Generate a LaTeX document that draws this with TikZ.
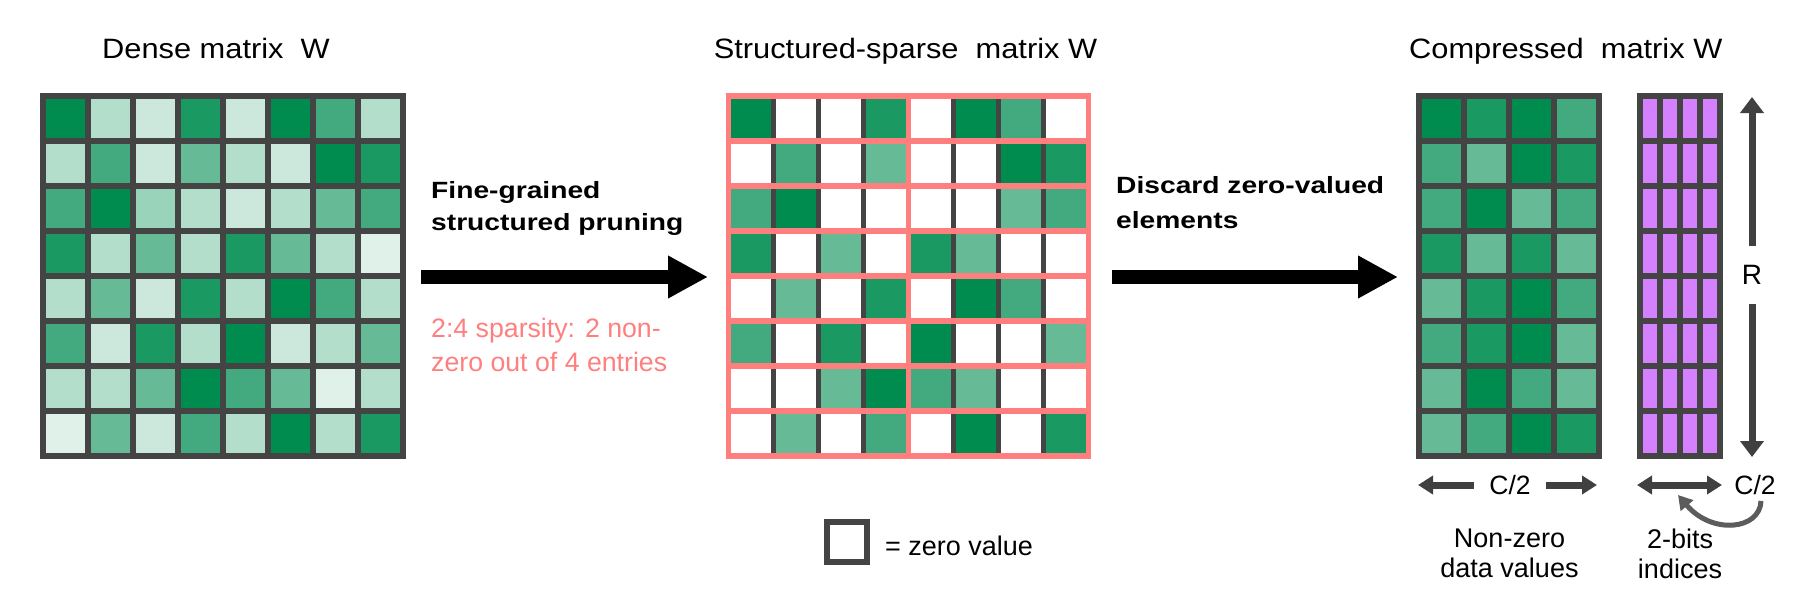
\documentclass[tikz,border=0pt]{standalone}
\usepackage{fontspec}
\setmainfont{Liberation Sans}
\newfontfamily\headfont[FakeStretch=1.1]{Liberation Sans}
\newfontfamily\stepfont[FakeStretch=1.2]{Liberation Sans}
\usetikzlibrary{arrows.meta}

\definecolor{gridgray}{HTML}{444444}
\definecolor{arrowgray}{HTML}{404040}
\definecolor{bendgray}{HTML}{5C5C5C}
\definecolor{prunepink}{HTML}{FF7F7F}
\definecolor{idxpurple}{HTML}{D580FF}
\definecolor{g1}{HTML}{008C4E}
\definecolor{g2}{HTML}{1A9A62}
\definecolor{g3}{HTML}{42AA7E}
\definecolor{g4}{HTML}{66BB96}
\definecolor{g5}{HTML}{99D3B9}
\definecolor{g6}{HTML}{B2DECB}
\definecolor{g7}{HTML}{CCE8DC}
\definecolor{g8}{HTML}{E0F1E9}

\tikzstyle{cell} = [draw=gridgray, line width=6pt]
\tikzstyle{sparsecell} = [draw=gridgray, line width=5pt]
\tikzstyle{pinkline} = [draw=prunepink, line width=5.5pt]
\tikzstyle{heading} = [font=\headfont\fontsize{28}{34}\selectfont, inner sep=0, anchor=base]
\tikzstyle{steplabel} = [font=\stepfont\bfseries\fontsize{23.5}{32}\selectfont, align=left, inner sep=0, anchor=north west]
\tikzstyle{pinknote} = [font=\fontsize{26.7}{34.4}\selectfont, text=prunepink, align=left, inner sep=0, anchor=north west]
\tikzstyle{caption} = [font=\fontsize{27}{30}\selectfont, align=center, inner sep=0, anchor=north]
\tikzstyle{bigarrow} = [-{Triangle[length=40pt,width=40pt]}, line width=14pt]
\tikzstyle{dimarrow} = [-{Triangle[length=16pt,width=23pt]}, line width=7pt, color=arrowgray]
\tikzstyle{widtharrow} = [-{Triangle[length=15pt,width=18pt]}, line width=7pt, color=arrowgray]
\tikzstyle{bendarrow} = [-{Triangle[length=14pt,width=16pt]}, line width=5pt, color=bendgray]

% one row of cells: style, x, y, colours
\newcommand{\cellrow}[4]{%
  \foreach \cellcol [count=\i from 0] in {#4}
    \filldraw[#1, fill=\cellcol] ({#2+45*\i}, {#3}) rectangle ++(45,45);
}

\begin{document}
\begin{tikzpicture}[x=1pt, y=-1pt]
  \useasboundingbox (0,0) rectangle (1805,590);

  % 标题
  \node[heading] (denseT) at (216,58.5) {Dense matrix\ \ W};
  \node[heading] (sparseT) at (905.5,58.5) {Structured-sparse\ \ matrix W};
  \node[heading] (compT) at (1565.8,58.5) {Compressed\ \ matrix W};

  % 稠密矩阵
  \cellrow{cell}{43}{96}{g1,g6,g7,g2,g7,g1,g3,g6}
  \cellrow{cell}{43}{141}{g6,g3,g7,g4,g6,g7,g1,g2}
  \cellrow{cell}{43}{186}{g3,g1,g5,g6,g7,g6,g4,g3}
  \cellrow{cell}{43}{231}{g2,g6,g4,g6,g2,g4,g6,g8}
  \cellrow{cell}{43}{276}{g6,g4,g7,g2,g6,g1,g3,g6}
  \cellrow{cell}{43}{321}{g3,g7,g2,g6,g1,g7,g6,g4}
  \cellrow{cell}{43}{366}{g6,g6,g4,g1,g3,g4,g8,g6}
  \cellrow{cell}{43}{411}{g8,g4,g7,g3,g6,g1,g6,g2}

  % 稀疏矩阵
  \cellrow{sparsecell}{728.5}{96}{g1,white,white,g2,white,g1,g3,white}
  \cellrow{sparsecell}{728.5}{141}{white,g3,white,g4,white,white,g1,g2}
  \cellrow{sparsecell}{728.5}{186}{g3,g1,white,white,white,white,g4,g3}
  \cellrow{sparsecell}{728.5}{231}{g2,white,g4,white,g2,g4,white,white}
  \cellrow{sparsecell}{728.5}{276}{white,g4,white,g2,white,g1,g3,white}
  \cellrow{sparsecell}{728.5}{321}{g3,white,g2,white,g1,white,white,g4}
  \cellrow{sparsecell}{728.5}{366}{white,white,g4,g1,g3,g4,white,white}
  \cellrow{sparsecell}{728.5}{411}{white,g4,white,g3,white,g1,white,g2}
  \foreach \j in {1,...,7}
    \draw[pinkline] (728.5,{96+45*\j}) -- (1088.5,{96+45*\j});
  \draw[pinkline] (908.5,96) -- (908.5,456);
  \draw[pinkline] (728.5,96) rectangle (1088.5,456);

  % 压缩矩阵
  \cellrow{cell}{1419}{96}{g1,g2,g1,g3}
  \cellrow{cell}{1419}{141}{g3,g4,g1,g2}
  \cellrow{cell}{1419}{186}{g3,g1,g4,g3}
  \cellrow{cell}{1419}{231}{g2,g4,g2,g4}
  \cellrow{cell}{1419}{276}{g4,g2,g1,g3}
  \cellrow{cell}{1419}{321}{g3,g2,g1,g4}
  \cellrow{cell}{1419}{366}{g4,g1,g3,g4}
  \cellrow{cell}{1419}{411}{g4,g3,g1,g2}

  % 索引
  \foreach \j in {0,...,7}
    \foreach \i in {0,...,3}
      \filldraw[cell, fill=idxpurple] ({1639.5+20.2*\i},{96+45*\j}) rectangle ++(20.2,45);

  % 箭头与说明
  \coordinate (pruneA) at (421,277);
  \coordinate (pruneB) at (708,277);
  \coordinate (discardA) at (1112,277);
  \coordinate (discardB) at (1398,277);
  \draw[bigarrow] (pruneA) -- (pruneB);
  \draw[bigarrow] (discardA) -- (discardB);
  \node[steplabel] (pruneL) at (431,181.5) {Fine-grained\\structured pruning};
  \node[steplabel, font=\stepfont\bfseries\fontsize{23.5}{35}\selectfont] (discardL) at (1116,176.5) {Discard zero-valued\\elements};
  \node[pinknote] (ratio) at (431,318) {2:4 sparsity: 2 non-\\zero out of 4 entries};

  % 行数 R
  \node[font=\fontsize{28}{34}\selectfont, inner sep=0, minimum height=58pt] (rows) at (1752,275) {R};
  \coordinate (rowsTop) at (1752,97);
  \coordinate (rowsBot) at (1752,457);
  \draw[dimarrow] (rows.north) -- (rowsTop);
  \draw[dimarrow] (rows.south) -- (rowsBot);

  % 列数 C/2
  \node[font=\fontsize{26.5}{32}\selectfont, inner sep=0, inner xsep=15pt] (halfA) at (1510,485) {C/2};
  \coordinate (halfAL) at (1418,485);
  \coordinate (halfAR) at (1597,485);
  \draw[widtharrow] (halfA.west) -- (halfAL);
  \draw[widtharrow] (halfA.east) -- (halfAR);
  \coordinate (idxL) at (1637,485);
  \coordinate (idxR) at (1722,485);
  \draw[widtharrow, {Triangle[length=15pt,width=18pt]}-{Triangle[length=15pt,width=18pt]}] (idxL) -- (idxR);
  \node[font=\fontsize{26.5}{32}\selectfont, inner sep=0] (halfB) at (1755,485) {C/2};
  \coordinate (bendEnd) at (1678,495);
  \draw[bendarrow] ([xshift=6pt,yshift=-6pt]halfB.south) .. controls (1760,530) and (1712,535) .. (bendEnd);

  % 底部说明
  \node[caption] (dataL) at (1509.5,528.3) {Non-zero\\data values};
  \node[caption] (idxLab) at (1680,528.3) {2-bits\\indices};

  % 图例
  \node[draw=gridgray, line width=6pt, minimum size=40pt, inner sep=0] (zerokey) at (846.5,542) {};
  \node[font=\fontsize{27}{32}\selectfont, inner sep=0, anchor=base west] (zeroL) at (885,555) {= zero value};
\end{tikzpicture}
\end{document}
